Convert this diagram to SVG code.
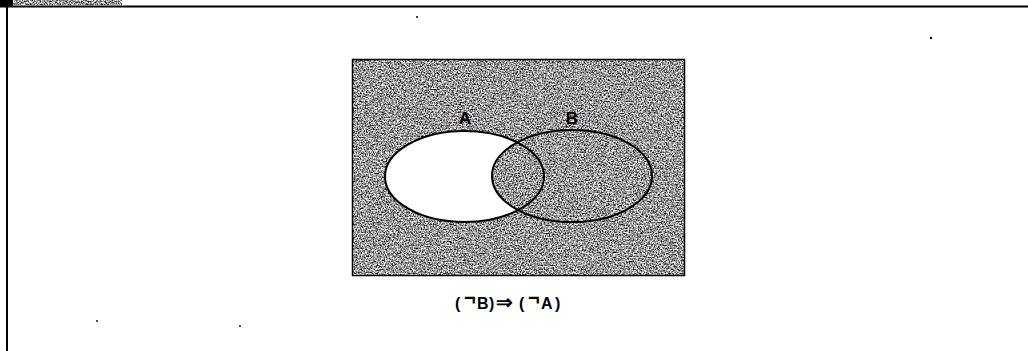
<svg xmlns="http://www.w3.org/2000/svg" width="1028" height="351" viewBox="0 0 1028 351">
<style>
.lbl{font-family:"Liberation Sans",Arial,sans-serif;font-weight:bold;fill:#000;text-anchor:middle}
.cap{font-family:"Liberation Sans",Arial,sans-serif;font-weight:bold;fill:#000;text-anchor:start;font-size:16px}
.neg{font-size:20px}
.arr{font-size:20px}
.edge{fill:none;stroke:#000;stroke-width:2}
</style>
<defs>
<filter id="grain" x="0" y="0" width="100%" height="100%" color-interpolation-filters="sRGB">
<feTurbulence type="fractalNoise" baseFrequency="0.75" numOctaves="2" seed="7" result="t"/>
<feColorMatrix in="t" type="matrix" values="2.4 0 0 0 -0.6  2.4 0 0 0 -0.6  2.4 0 0 0 -0.6  0 0 0 0 1" result="g"/>
<feComposite in="g" in2="SourceGraphic" operator="in"/>
</filter>
<mask id="setMask" maskUnits="userSpaceOnUse" x="0" y="0" width="1028" height="351">
<rect x="352" y="59" width="333" height="217" fill="#fff"/>
<ellipse cx="464.5" cy="176.5" rx="79.5" ry="45.5" fill="#000"/>
<ellipse cx="572" cy="176" rx="80" ry="46" fill="#fff"/>
</mask>
</defs>
<rect width="1028" height="351" fill="#fff"/>
<g id="frame">
<rect x="0" y="0" width="13" height="7" fill="#000"/>
<rect x="13" y="0" width="109" height="5" fill="#888" filter="url(#grain)"/>
<line x1="0" y1="6.5" x2="1028" y2="6.5" stroke="#000" stroke-width="2"/>
<line x1="7" y1="6" x2="7" y2="351" stroke="#000" stroke-width="2"/>
</g>
<g id="universe">
<g mask="url(#setMask)">
<rect x="352" y="59" width="333" height="217" fill="#888" filter="url(#grain)"/>
</g>
<rect x="352.5" y="59.5" width="332" height="216" fill="none" stroke="#000" stroke-width="1.5"/>
</g>
<g id="setA">
<ellipse class="edge" cx="464.5" cy="176.5" rx="79.5" ry="45.5"/>
<text class="lbl" x="465" y="124" font-size="17">A</text>
</g>
<g id="setB">
<ellipse class="edge" cx="572" cy="176" rx="80" ry="46" stroke-width="1.5"/>
<text class="lbl" x="572" y="124" font-size="17">B</text>
</g>
<g id="connectors"></g>
<g id="caption">
<text class="cap" y="309"><tspan x="455">(</tspan><tspan class="neg" x="464" dy="-4">¬</tspan><tspan x="477" dy="4">B</tspan><tspan x="489">)</tspan><tspan class="arr" x="496">⇒</tspan><tspan x="519">(</tspan><tspan class="neg" x="528" dy="-4">¬</tspan><tspan x="541" dy="4">A</tspan><tspan x="555">)</tspan></text>
</g>
<g id="specks" fill="#000">
<circle cx="417" cy="17" r="1"/>
<circle cx="931" cy="38" r="1.2"/>
<circle cx="97" cy="321" r="0.9"/>
<circle cx="240" cy="326" r="0.9"/>
</g>
</svg>
